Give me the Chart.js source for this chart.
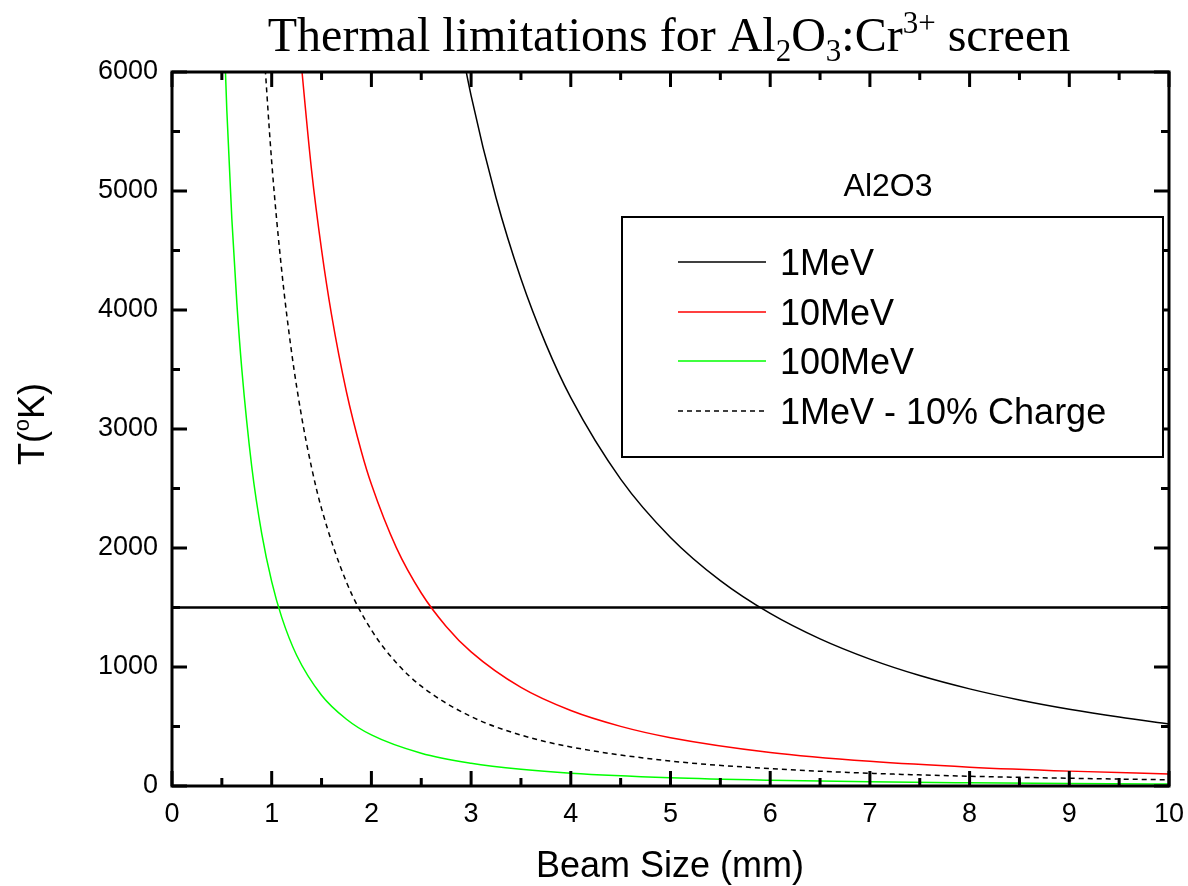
<!DOCTYPE html>
<html>
<head>
<meta charset="utf-8">
<title>Thermal limitations for Al2O3:Cr3+ screen</title>
<script src="https://cdn.jsdelivr.net/npm/chart.js@4.4.1/dist/chart.umd.min.js"></script>
<style>
  html, body { margin: 0; padding: 0; background: #fff; }
  #wrap { width: 1188px; height: 886px; }
</style>
</head>
<body>
<div id="wrap"><canvas id="thermalChart" width="1188" height="886"></canvas></div>
<script>
// Beam size (mm) and screen temperature (K)
const beam1MeV = [2.8, 3, 3.25, 3.5, 3.75, 4, 4.5, 5, 5.5, 6, 6.5, 7, 7.5, 8, 8.5, 9, 9.5, 10];
const temp1MeV = [6660, 5802, 4943, 4262, 3713, 3263, 2579, 2089, 1726, 1450, 1236, 1066, 928, 816, 723, 645, 579, 522];

const beam10MeV = [1.25, 1.4, 1.5, 1.6, 1.75, 1.9, 2, 2.25, 2.5, 2.75, 3, 3.5, 4, 4.5, 5, 6, 7, 8, 9, 10];
const temp10MeV = [6490, 5173, 4507, 3961, 3311, 2809, 2535, 2003, 1622, 1341, 1127, 828, 634, 501, 406, 282, 207, 158, 125, 101];

const beam100MeV = [0.5, 0.55, 0.6, 0.65, 0.7, 0.8, 0.9, 1, 1.1, 1.25, 1.5, 1.75, 2, 2.5, 3, 3.5, 4, 5, 6, 7, 8, 9, 10];
const temp100MeV = [6868, 5676, 4769, 4064, 3504, 2683, 2120, 1717, 1419, 1099, 763, 561, 429, 275, 191, 140, 107, 69, 48, 35, 27, 21, 17];

const beamLowQ = [0.9, 1, 1.1, 1.2, 1.3, 1.4, 1.5, 1.75, 2, 2.25, 2.5, 3, 3.5, 4, 5, 6, 7, 8, 9, 10];
const tempLowQ = [6475, 5245, 4335, 3642, 3104, 2676, 2331, 1713, 1311, 1036, 839, 583, 428, 328, 210, 146, 107, 82, 65, 52];

// melting limit line
const limitBeam = [0, 10];
const limitTemp = [1500, 1500];

const seriesNames = ['1MeV', '10MeV', '100MeV', '1MeV - 10% Charge'];

const xMajorTicks = [0, 1, 2, 3, 4, 5, 6, 7, 8, 9, 10];
const xMinorTicks = [0.5, 1.5, 2.5, 3.5, 4.5, 5.5, 6.5, 7.5, 8.5, 9.5];
const yMajorTicks = [0, 1000, 2000, 3000, 4000, 5000, 6000];
const yMinorTicks = [500, 1500, 2500, 3500, 4500, 5500];

const SANS = '"Liberation Sans", Arial, Helvetica, sans-serif';
const SERIF = '"Liberation Serif", "Times New Roman", serif';

function toPoints(xs, ys) {
    return xs.map((x, i) => ({ x: x, y: ys[i] }));
}

// draw text made of pieces (for sub/superscripts)
function drawRich(ctx, parts, x, y, align) {
    let total = 0;
    parts.forEach(p => {
        ctx.font = p.font;
        p.w = ctx.measureText(p.text).width;
        total += p.w;
    });
    let cx = align === 'center' ? x - total / 2 : x;
    ctx.textAlign = 'left';
    ctx.textBaseline = 'alphabetic';
    parts.forEach(p => {
        ctx.font = p.font;
        ctx.fillText(p.text, cx, y + (p.dy || 0));
        cx += p.w;
    });
}

const framePlugin = {
    id: 'frame',
    afterDraw(chart) {
        const ctx = chart.ctx;
        const area = chart.chartArea;
        const xs = chart.scales.x;
        const ys = chart.scales.y;
        ctx.save();
        ctx.fillStyle = '#000';
        ctx.strokeStyle = '#000';

        // axis box
        ctx.lineWidth = 3;
        ctx.strokeRect(area.left, area.top, area.right - area.left, area.bottom - area.top);

        // inward ticks on all four sides
        const tick = (vals, len, vertical) => {
            vals.forEach(v => {
                ctx.beginPath();
                if (vertical) {
                    const px = xs.getPixelForValue(v);
                    ctx.moveTo(px, area.bottom); ctx.lineTo(px, area.bottom - len);
                    ctx.moveTo(px, area.top); ctx.lineTo(px, area.top + len);
                } else {
                    const py = ys.getPixelForValue(v);
                    ctx.moveTo(area.left, py); ctx.lineTo(area.left + len, py);
                    ctx.moveTo(area.right, py); ctx.lineTo(area.right - len, py);
                }
                ctx.stroke();
            });
        };
        ctx.lineWidth = 3;
        tick(xMajorTicks, 15, true);
        tick(xMinorTicks, 8, true);
        tick(yMajorTicks, 15, false);
        tick(yMinorTicks, 8, false);

        // title
        const big = '48px ' + SERIF;
        const small = '31px ' + SERIF;
        drawRich(ctx, [
            { text: 'Thermal limitations for Al', font: big },
            { text: '2', font: small, dy: 10 },
            { text: 'O', font: big },
            { text: '3', font: small, dy: 10 },
            { text: ':Cr', font: big },
            { text: '3+', font: small, dy: -18 },
            { text: ' screen', font: big }
        ], 669, 51, 'center');

        // x axis title
        drawRich(ctx, [{ text: 'Beam Size (mm)', font: '36px ' + SANS }], 670, 877, 'center');

        // y axis title
        ctx.save();
        ctx.translate(44, 424);
        ctx.rotate(-Math.PI / 2);
        drawRich(ctx, [
            { text: 'T(', font: '36px ' + SANS },
            { text: 'o', font: '22px ' + SANS, dy: -15 },
            { text: 'K)', font: '36px ' + SANS }
        ], 0, 0, 'center');
        ctx.restore();

        // material label and legend box
        drawRich(ctx, [{ text: 'Al2O3', font: '32px ' + SANS }], 888, 196, 'center');
        ctx.fillStyle = '#fff';
        ctx.fillRect(622, 217, 541, 240);
        ctx.lineWidth = 2;
        ctx.strokeRect(622, 217, 541, 240);
        const rows = [262, 312, 361, 411];
        chart.data.datasets.slice(0, 4).forEach((ds, i) => {
            ctx.beginPath();
            ctx.lineWidth = 1.5;
            ctx.strokeStyle = ds.borderColor;
            ctx.setLineDash(ds.borderDash || []);
            ctx.moveTo(678, rows[i]);
            ctx.lineTo(766, rows[i]);
            ctx.stroke();
            ctx.setLineDash([]);
            ctx.fillStyle = '#000';
            drawRich(ctx, [{ text: seriesNames[i], font: '36px ' + SANS }], 780, rows[i] + 13, 'left');
        });
        ctx.restore();
    }
};

const lineStyle = {
    showLine: true,
    pointRadius: 0,
    borderWidth: 1.5,
    cubicInterpolationMode: 'monotone',
    fill: false
};

new Chart(document.getElementById('thermalChart'), {
    type: 'scatter',
    data: {
        datasets: [
            Object.assign({ label: seriesNames[0], data: toPoints(beam1MeV, temp1MeV), borderColor: '#000000' }, lineStyle),
            Object.assign({ label: seriesNames[1], data: toPoints(beam10MeV, temp10MeV), borderColor: '#ff0000' }, lineStyle),
            Object.assign({ label: seriesNames[2], data: toPoints(beam100MeV, temp100MeV), borderColor: '#00ff00' }, lineStyle),
            Object.assign({ label: seriesNames[3], data: toPoints(beamLowQ, tempLowQ), borderColor: '#000000', borderDash: [5, 4] }, lineStyle),
            Object.assign({ label: 'limit', data: toPoints(limitBeam, limitTemp), borderColor: '#000000' }, lineStyle, { borderWidth: 2.5, cubicInterpolationMode: 'default' })
        ]
    },
    options: {
        responsive: false,
        animation: false,
        devicePixelRatio: 1,
        layout: { padding: { top: 72, right: 19, left: 0, bottom: 0 } },
        plugins: {
            legend: { display: false },
            title: { display: false },
            tooltip: { enabled: false }
        },
        scales: {
            x: {
                type: 'linear',
                min: 0,
                max: 10,
                afterBuildTicks: s => { s.ticks = xMajorTicks.map(v => ({ value: v })); },
                afterFit: s => { s.height = 100; s.paddingLeft = 0; s.paddingRight = 0; },
                grid: { display: false, drawTicks: false },
                border: { display: false },
                ticks: {
                    padding: 12,
                    color: '#000',
                    font: { family: SANS, size: 27 },
                    maxRotation: 0
                }
            },
            y: {
                type: 'linear',
                min: 0,
                max: 6000,
                afterBuildTicks: s => { s.ticks = yMajorTicks.map(v => ({ value: v })); },
                afterFit: s => { s.width = 172; s.paddingTop = 0; s.paddingBottom = 0; },
                grid: { display: false, drawTicks: false },
                border: { display: false },
                ticks: {
                    padding: 14,
                    color: '#000',
                    font: { family: SANS, size: 27 },
                    callback: v => String(v)
                }
            }
        }
    },
    plugins: [framePlugin]
});
</script>
</body>
</html>
